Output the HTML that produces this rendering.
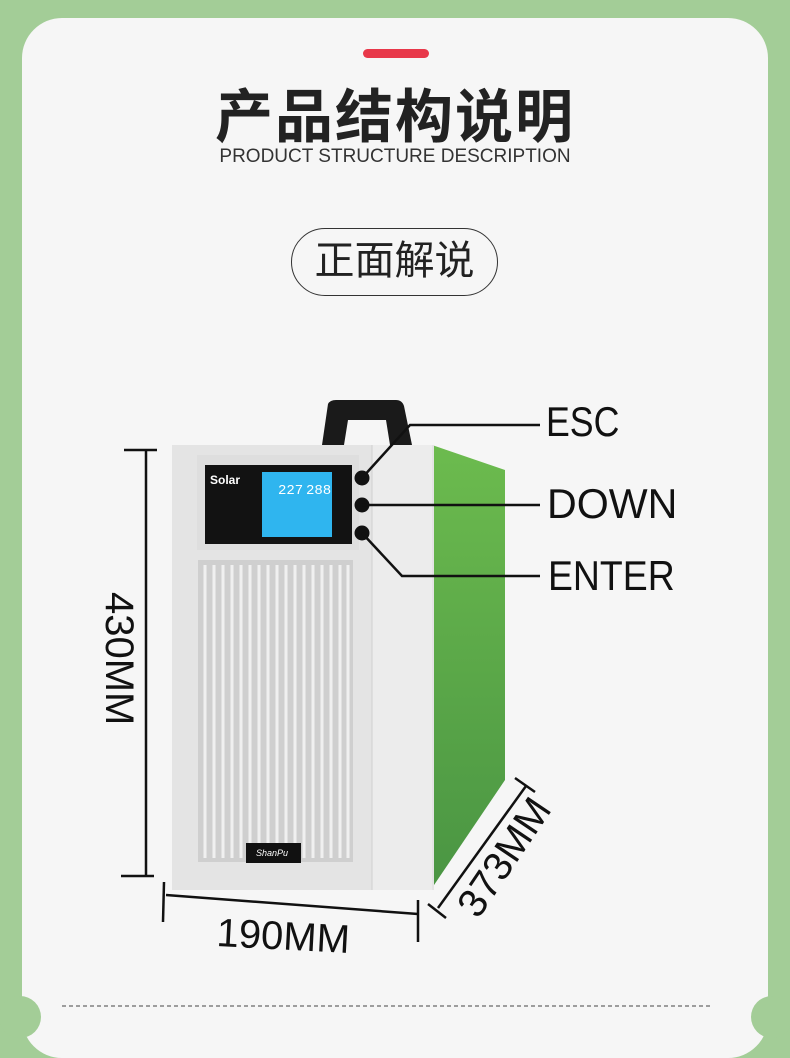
<!DOCTYPE html>
<html><head><meta charset="utf-8"><style>
html,body{margin:0;padding:0;}
body{width:790px;height:1018px;background:#a3cd97;position:relative;overflow:hidden;font-family:"Liberation Sans","Noto Sans CJK SC",sans-serif;}
.card{position:absolute;left:22px;top:18px;width:746px;height:1040px;background:#f6f6f6;border-radius:40px;}
.t{position:absolute;white-space:nowrap;}
</style></head><body>
<div class="card"></div>
<div style="position:absolute;left:-1px;top:996px;width:42px;height:42px;border-radius:50%;background:#a3cd97"></div>
<div style="position:absolute;left:751px;top:996px;width:42px;height:42px;border-radius:50%;background:#a3cd97"></div>
<div style="position:absolute;left:363px;top:49px;width:66px;height:9px;border-radius:5px;background:#e8384a"></div>
<div class="t" style="left:0;width:790px;text-align:center;top:70px;font-size:58px;font-weight:bold;color:#222;letter-spacing:2px;">产品结构说明</div>
<div class="t" style="left:0;width:790px;text-align:center;top:146px;font-size:19px;color:#333;">PRODUCT STRUCTURE DESCRIPTION</div>
<div style="position:absolute;left:291px;top:228px;width:207px;height:68px;border:1.5px solid #333;border-radius:34px;box-sizing:border-box;text-align:center;line-height:64px;font-size:40px;color:#222;">正面解说</div>
<svg width="790" height="1018" style="position:absolute;left:0;top:0">
<defs><linearGradient id="g" x1="0" y1="0" x2="0" y2="1"><stop offset="0" stop-color="#6cbb4e"/><stop offset="1" stop-color="#4a9543"/></linearGradient></defs>
<!-- handle -->
<path d="M322 445 L328 404 Q330 400 336 400 L396 400 Q402 400 404 406 L412 445 L390 445 L386 420 L348 420 L344 445 Z" fill="#1a1a1a"/>
<!-- green side -->
<polygon points="432,445 505,470 505,780 432,888" fill="url(#g)"/>
<!-- front -->
<rect x="172" y="445" width="262" height="445" fill="#e4e4e4"/>
<rect x="372" y="445" width="60" height="445" fill="#ececec"/>
<line x1="372" y1="445" x2="372" y2="890" stroke="#d0d0d0"/>
<rect x="197" y="455" width="162" height="95" fill="#dedede"/>
<rect x="205" y="465" width="147" height="79" fill="#121212"/>
<rect x="262" y="472" width="70" height="65" fill="#2fb5ef"/>
<text x="210" y="484" font-size="12" font-weight="bold" fill="#fff">Solar</text>
<text x="278" y="494" font-size="14" fill="#fff" font-family="Liberation Mono">227</text>
<text x="306" y="494" font-size="14" fill="#fff" font-family="Liberation Mono">288</text>
<circle cx="362" cy="478" r="7.5" fill="#111"/>
<circle cx="362" cy="505" r="7.5" fill="#111"/>
<circle cx="362" cy="533" r="7.5" fill="#111"/>
<rect x="198" y="560" width="155" height="302" fill="#cfcfcf"/>
<g stroke="#f0f0f0" stroke-width="3">
<line x1="205" y1="565" x2="205" y2="858"/><line x1="214" y1="565" x2="214" y2="858"/><line x1="223" y1="565" x2="223" y2="858"/><line x1="232" y1="565" x2="232" y2="858"/><line x1="241" y1="565" x2="241" y2="858"/><line x1="250" y1="565" x2="250" y2="858"/><line x1="259" y1="565" x2="259" y2="858"/><line x1="268" y1="565" x2="268" y2="858"/><line x1="277" y1="565" x2="277" y2="858"/><line x1="286" y1="565" x2="286" y2="858"/><line x1="295" y1="565" x2="295" y2="858"/><line x1="304" y1="565" x2="304" y2="858"/><line x1="313" y1="565" x2="313" y2="858"/><line x1="322" y1="565" x2="322" y2="858"/><line x1="331" y1="565" x2="331" y2="858"/><line x1="340" y1="565" x2="340" y2="858"/><line x1="348" y1="565" x2="348" y2="858"/>
</g>
<rect x="246" y="843" width="55" height="20" fill="#111"/>
<text x="256" y="856" font-size="9" font-style="italic" fill="#fff">ShanPu</text>
<g stroke="#111" stroke-width="2.5" fill="none">
<polyline points="362,478 410,425 540,425"/>
<line x1="362" y1="505" x2="540" y2="505"/>
<polyline points="362,533 402,576 540,576"/>
<line x1="146" y1="450" x2="146" y2="876"/>
<line x1="124" y1="450" x2="157" y2="450"/>
<line x1="121" y1="876" x2="154" y2="876"/>
<line x1="166" y1="895" x2="418" y2="914"/>
<line x1="164" y1="882" x2="163" y2="922"/>
<line x1="418" y1="900" x2="418" y2="942"/>
<line x1="438" y1="908" x2="526" y2="786"/>
<line x1="428" y1="904" x2="446" y2="918"/>
<line x1="515" y1="778" x2="535" y2="792"/>
</g>
<text x="0" y="0" font-size="40" fill="#111" transform="translate(106,592) rotate(90)">430MM</text>
<text x="0" y="0" font-size="40" fill="#111" transform="translate(216,946) rotate(3)">190MM</text>
<text x="0" y="0" font-size="40" fill="#111" transform="translate(478,920) rotate(-56)">373MM</text>
<line x1="62" y1="1006" x2="710" y2="1006" stroke="#444" stroke-width="1" stroke-dasharray="4,3"/>
</svg>
<div class="t" style="left:546px;top:398px;font-size:42px;color:#111;transform:scaleX(0.85);transform-origin:left;">ESC</div>
<div class="t" style="left:547px;top:480px;font-size:42px;color:#111;transform:scaleX(0.98);transform-origin:left;">DOWN</div>
<div class="t" style="left:548px;top:552px;font-size:42px;color:#111;transform:scaleX(0.89);transform-origin:left;">ENTER</div>
</body></html>
